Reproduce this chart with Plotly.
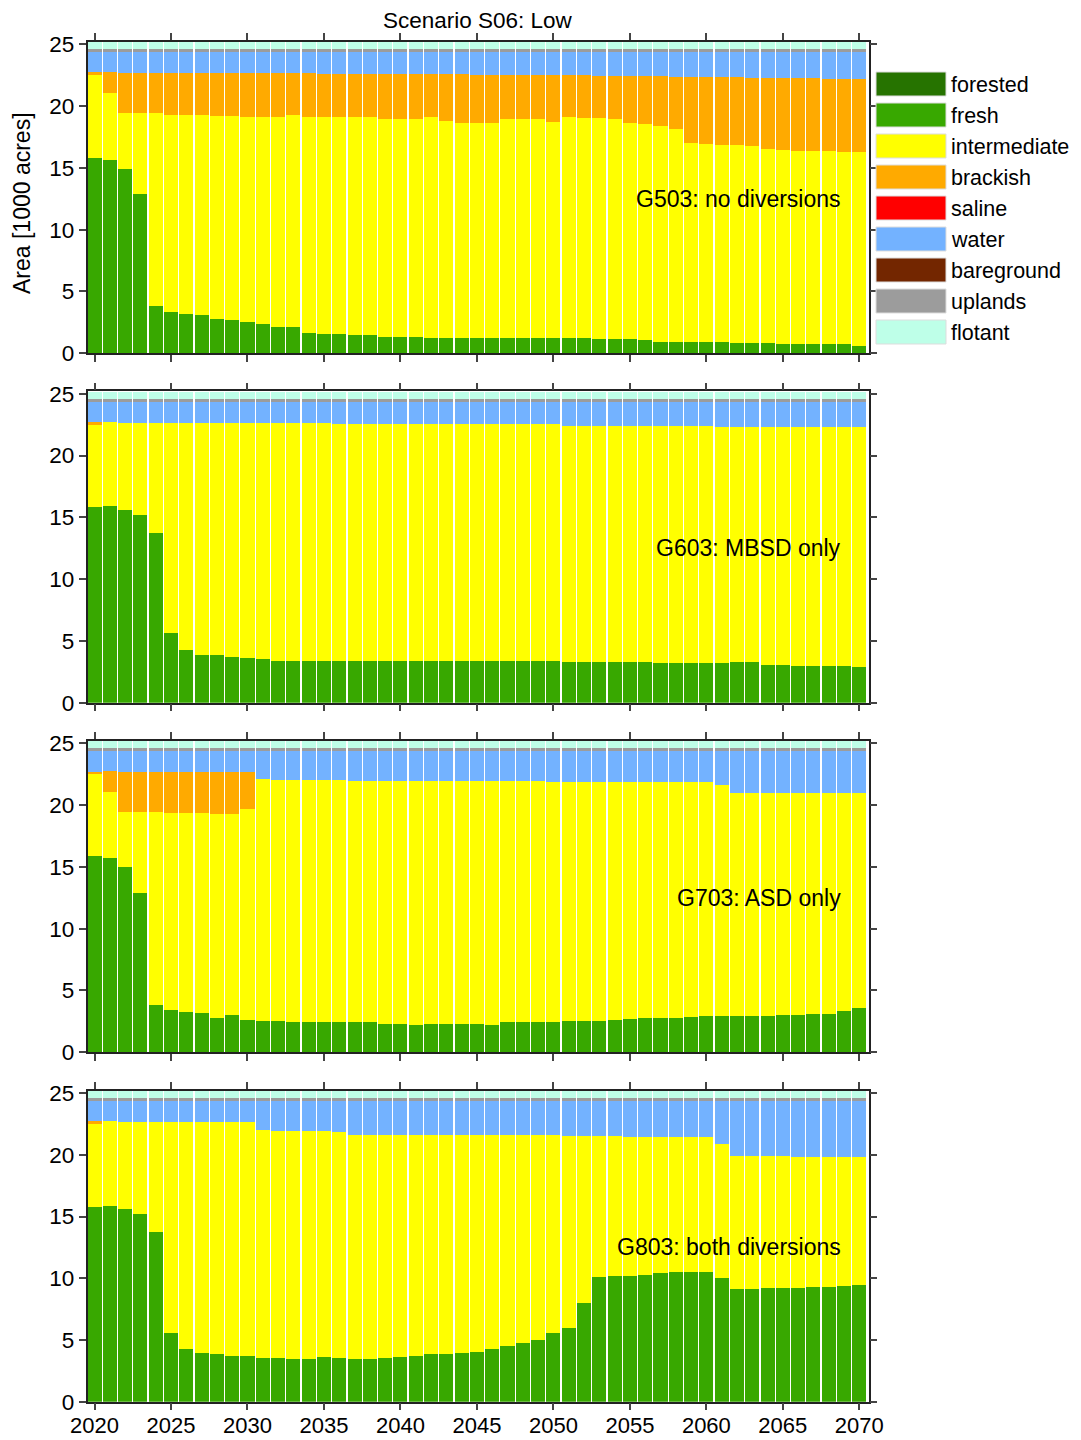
import plotly.graph_objects as go

# ---------------- data ----------------
years = list(range(2020, 2071))

categories = ["forested", "fresh", "intermediate", "brackish", "saline",
              "water", "bareground", "uplands", "flotant"]
cat_colors = ["#267300", "#38a800", "#ffff00", "#ffaa00", "#ff0000",
              "#73b2ff", "#732600", "#9c9c9c", "#beffe8"]

panel_labels = ["G503: no diversions", "G603: MBSD only",
                "G703: ASD only", "G803: both diversions"]
title_text = "Scenario S06: Low"
y_title = "Area [1000 acres]"
x_ticks = [2020, 2025, 2030, 2035, 2040, 2045, 2050, 2055, 2060, 2065, 2070]
y_ticks = [0, 5, 10, 15, 20, 25]

# Stack boundaries (1000 acres, cumulative tops)
# ---- G503 ----
g503_fresh_top = [15.83, 15.66, 14.94, 12.89, 3.83, 3.37, 3.18, 3.10, 2.78, 2.69,
                  2.50, 2.37, 2.15, 2.15, 1.67, 1.59, 1.59, 1.50, 1.46, 1.35,
                  1.35, 1.30, 1.21, 1.21, 1.21, 1.21, 1.21, 1.21, 1.21, 1.21,
                  1.21, 1.21, 1.21, 1.18, 1.13, 1.13, 1.08, 0.94, 0.89, 0.89,
                  0.89, 0.89, 0.86, 0.86, 0.86, 0.78, 0.72, 0.72, 0.72, 0.72,
                  0.59]
g503_inter_top = [22.52, 21.04, 19.42, 19.42, 19.41, 19.31, 19.31, 19.31, 19.22, 19.22,
                  19.14, 19.14, 19.14, 19.31, 19.14, 19.14, 19.14, 19.14, 19.14, 18.93,
                  18.93, 18.93, 19.14, 18.82, 18.66, 18.66, 18.66, 18.98, 18.93, 18.93,
                  18.74, 19.09, 19.06, 19.00, 18.93, 18.66, 18.55, 18.39, 18.12, 17.04,
                  16.93, 16.85, 16.85, 16.77, 16.55, 16.45, 16.40, 16.40, 16.40, 16.31,
                  16.31]
g503_brack_top = [22.78, 22.78, 22.65, 22.65, 22.65, 22.65, 22.65, 22.65, 22.65, 22.65,
                  22.65, 22.65, 22.65, 22.65, 22.65, 22.57, 22.57, 22.57, 22.57, 22.57,
                  22.57, 22.57, 22.57, 22.55, 22.55, 22.52, 22.52, 22.52, 22.52, 22.50,
                  22.47, 22.47, 22.47, 22.44, 22.44, 22.44, 22.42, 22.40, 22.38, 22.38,
                  22.38, 22.33, 22.33, 22.30, 22.25, 22.25, 22.25, 22.25, 22.22, 22.22,
                  22.22]
# ---- G603 ----
g603_fresh_top = [15.83, 15.90, 15.60, 15.20, 13.70, 5.60, 4.30, 3.90, 3.85, 3.70,
                  3.60, 3.55, 3.40, 3.35, 3.35, 3.35, 3.35, 3.35, 3.35, 3.35,
                  3.35, 3.35, 3.35, 3.35, 3.35, 3.35, 3.35, 3.35, 3.35, 3.35,
                  3.35, 3.30, 3.30, 3.30, 3.30, 3.30, 3.30, 3.25, 3.25, 3.25,
                  3.25, 3.20, 3.30, 3.30, 3.05, 3.05, 3.00, 3.00, 2.95, 2.95,
                  2.90]
g603_inter_top = [22.50, 22.75, 22.65, 22.65, 22.65, 22.65, 22.65, 22.65, 22.65, 22.65,
                  22.65, 22.65, 22.65, 22.65, 22.65, 22.65, 22.55, 22.55, 22.55, 22.55,
                  22.55, 22.55, 22.55, 22.55, 22.55, 22.55, 22.55, 22.55, 22.55, 22.55,
                  22.55, 22.42, 22.42, 22.42, 22.42, 22.42, 22.42, 22.42, 22.42, 22.42,
                  22.42, 22.28, 22.28, 22.28, 22.28, 22.28, 22.28, 22.28, 22.28, 22.28,
                  22.28]
g603_brack_top = [22.75, 22.75, 22.65, 22.65, 22.65, 22.65, 22.65, 22.65, 22.65, 22.65,
                  22.65, 22.65, 22.65, 22.65, 22.65, 22.65, 22.55, 22.55, 22.55, 22.55,
                  22.55, 22.55, 22.55, 22.55, 22.55, 22.55, 22.55, 22.55, 22.55, 22.55,
                  22.55, 22.42, 22.42, 22.42, 22.42, 22.42, 22.42, 22.42, 22.42, 22.42,
                  22.42, 22.28, 22.28, 22.28, 22.28, 22.28, 22.28, 22.28, 22.28, 22.28,
                  22.28]
# ---- G703 ----
g703_fresh_top = [15.88, 15.72, 14.99, 12.91, 3.83, 3.40, 3.24, 3.16, 2.80, 2.99,
                  2.61, 2.53, 2.53, 2.45, 2.45, 2.45, 2.45, 2.45, 2.45, 2.29,
                  2.29, 2.21, 2.29, 2.29, 2.30, 2.30, 2.22, 2.45, 2.45, 2.45,
                  2.45, 2.50, 2.55, 2.55, 2.65, 2.70, 2.75, 2.75, 2.80, 2.85,
                  2.95, 2.95, 2.90, 2.90, 2.95, 3.05, 3.05, 3.10, 3.10, 3.35,
                  3.55]
g703_inter_top = [22.57, 21.09, 19.47, 19.47, 19.47, 19.34, 19.34, 19.34, 19.26, 19.26,
                  19.68, 22.11, 22.03, 22.03, 22.03, 22.03, 22.03, 21.92, 21.92, 21.92,
                  21.92, 21.92, 21.92, 21.92, 21.92, 21.92, 21.92, 21.92, 21.92, 21.92,
                  21.88, 21.88, 21.88, 21.88, 21.88, 21.88, 21.88, 21.88, 21.88, 21.88,
                  21.85, 21.62, 20.95, 20.95, 20.95, 20.95, 20.95, 20.95, 20.95, 20.95,
                  20.95]
g703_brack_top = [22.70, 22.78, 22.70, 22.70, 22.70, 22.70, 22.70, 22.70, 22.70, 22.70,
                  22.70, 22.11, 22.03, 22.03, 22.03, 22.03, 22.03, 21.92, 21.92, 21.92,
                  21.92, 21.92, 21.92, 21.92, 21.92, 21.92, 21.92, 21.92, 21.92, 21.92,
                  21.88, 21.88, 21.88, 21.88, 21.88, 21.88, 21.88, 21.88, 21.88, 21.88,
                  21.85, 21.62, 20.95, 20.95, 20.95, 20.95, 20.95, 20.95, 20.95, 20.95,
                  20.95]
# ---- G803 ----
g803_fresh_top = [15.80, 15.88, 15.62, 15.21, 13.73, 5.59, 4.27, 3.92, 3.87, 3.70,
                  3.70, 3.51, 3.51, 3.43, 3.43, 3.60, 3.51, 3.43, 3.43, 3.51,
                  3.60, 3.68, 3.87, 3.87, 3.92, 4.05, 4.30, 4.51, 4.73, 5.00,
                  5.59, 5.95, 7.97, 10.13, 10.21, 10.21, 10.29, 10.40, 10.48, 10.48,
                  10.48, 10.05, 9.13, 9.13, 9.21, 9.21, 9.21, 9.29, 9.29, 9.38,
                  9.46]
g803_inter_top = [22.50, 22.75, 22.67, 22.67, 22.67, 22.67, 22.67, 22.67, 22.67, 22.67,
                  22.67, 22.02, 21.91, 21.91, 21.91, 21.91, 21.83, 21.61, 21.61, 21.61,
                  21.61, 21.61, 21.61, 21.61, 21.61, 21.61, 21.61, 21.61, 21.61, 21.61,
                  21.61, 21.53, 21.53, 21.53, 21.53, 21.45, 21.45, 21.45, 21.45, 21.45,
                  21.45, 20.88, 19.91, 19.91, 19.91, 19.91, 19.83, 19.83, 19.83, 19.83,
                  19.83]
g803_brack_top = [22.74, 22.75, 22.67, 22.67, 22.67, 22.67, 22.67, 22.67, 22.67, 22.67,
                  22.67, 22.02, 21.91, 21.91, 21.91, 21.91, 21.83, 21.61, 21.61, 21.61,
                  21.61, 21.61, 21.61, 21.61, 21.61, 21.61, 21.61, 21.61, 21.61, 21.61,
                  21.61, 21.53, 21.53, 21.53, 21.53, 21.45, 21.45, 21.45, 21.45, 21.45,
                  21.45, 20.88, 19.91, 19.91, 19.91, 19.91, 19.83, 19.83, 19.83, 19.83,
                  19.83]

# top layers (nearly constant across all runs)
water_top = 24.35
uplands_area = 0.22
flotant_area = 0.58

panels = [
    (g503_fresh_top, g503_inter_top, g503_brack_top),
    (g603_fresh_top, g603_inter_top, g603_brack_top),
    (g703_fresh_top, g703_inter_top, g703_brack_top),
    (g803_fresh_top, g803_inter_top, g803_brack_top),
]

# ---------------- figure ----------------
PAGE_W, PAGE_H = 1081, 1440
OFF = 8                      # default page body margin
W, H = PAGE_W - OFF, PAGE_H - OFF
FONT = "Liberation Sans, Arial, sans-serif"
panel_px = [(41.7, 353.3), (391.3, 702.7), (740.7, 1052.3), (1090.7, 1401.7)]


def pxx(p):
    return (p - OFF) / W


def pxy(p):
    return 1 - (p - OFF) / H


x_dom = [pxx(87.5), pxx(868.5)]

fig = go.Figure()
layout = dict(
    width=W, height=H,
    margin=dict(l=0, r=0, t=0, b=0, pad=0, autoexpand=False),
    paper_bgcolor="white", plot_bgcolor="white",
    barmode="stack", bargap=0.08,
    showlegend=False,
    font=dict(family=FONT, size=23, color="black"),
)

annotations = []
shapes = []

for i, (f_top, i_top, b_top) in enumerate(panels):
    n = "" if i == 0 else str(i + 1)
    xa, ya = "x" + n, "y" + n
    fresh = list(f_top)
    inter = [a - b for a, b in zip(i_top, f_top)]
    brack = [a - b for a, b in zip(b_top, i_top)]
    water = [water_top - b for b in b_top]
    layers = {
        "forested": [0.0 for _ in years],
        "fresh": fresh,
        "intermediate": inter,
        "brackish": brack,
        "saline": [0.0 for _ in years],
        "water": water,
        "bareground": [0.0 for _ in years],
        "uplands": [uplands_area for _ in years],
        "flotant": [flotant_area for _ in years],
    }
    for cat, col in zip(categories, cat_colors):
        fig.add_trace(go.Bar(
            x=years, y=layers[cat], name=cat,
            marker=dict(color=col, line=dict(width=0)),
            xaxis=xa, yaxis=ya, showlegend=False,
        ))
    top, bot = panel_px[i]
    layout["xaxis" + n] = dict(
        domain=x_dom, range=[2019.54, 2070.6], anchor=ya, automargin=False,
        tickmode="array", tickvals=x_ticks, ticktext=[str(t) for t in x_ticks],
        ticks="outside", ticklen=7, tickwidth=1.5, tickcolor="#444",
        showline=True, linecolor="#222", linewidth=1.5, mirror="ticks",
        showgrid=False, zeroline=False, showticklabels=(i == 3),
        ticklabelstandoff=-4,
        tickfont=dict(family=FONT, size=22, color="black"),
    )
    layout["yaxis" + n] = dict(
        domain=[pxy(bot), pxy(top)], range=[0, 25.2], anchor=xa, automargin=False,
        tickmode="array", tickvals=y_ticks, ticktext=[str(t) for t in y_ticks],
        ticks="outside", ticklen=7, tickwidth=1.5, tickcolor="#444",
        showline=True, linecolor="#222", linewidth=1.5, mirror="ticks",
        showgrid=False, zeroline=False,
        tickfont=dict(family=FONT, size=22.5, color="black"),
    )
    annotations.append(dict(
        text=panel_labels[i], x=2068.9, y=12.5, xref=xa, yref=ya,
        xanchor="right", yanchor="middle", showarrow=False,
        font=dict(family=FONT, size=23, color="black"),
    ))

# title and y title
annotations.append(dict(
    text=title_text, x=(x_dom[0] + x_dom[1]) / 2, y=pxy(21), xref="paper", yref="paper",
    xanchor="center", yanchor="middle", showarrow=False,
    font=dict(family=FONT, size=22.5, color="black"),
))
annotations.append(dict(
    text=y_title, x=pxx(22), y=pxy(203), xref="paper", yref="paper",
    xanchor="center", yanchor="middle", textangle=-90, showarrow=False,
    font=dict(family=FONT, size=23, color="black"),
))

# legend (drawn as swatches + labels)
for k, (cat, col) in enumerate(zip(categories, cat_colors)):
    cy = 84 + k * 31.0
    shapes.append(dict(
        type="rect", xref="paper", yref="paper",
        x0=pxx(876), x1=pxx(946), y0=pxy(cy + 12), y1=pxy(cy - 12),
        fillcolor=col, line=dict(color="#dddddd", width=1),
    ))
    annotations.append(dict(
        text=cat, x=pxx(949), y=pxy(cy + 1), xref="paper", yref="paper",
        xanchor="left", yanchor="middle", showarrow=False,
        font=dict(family=FONT, size=21.5, color="black"),
    ))

layout["annotations"] = annotations
layout["shapes"] = shapes
fig.update_layout(**layout)
fig.write_html("out.html")
